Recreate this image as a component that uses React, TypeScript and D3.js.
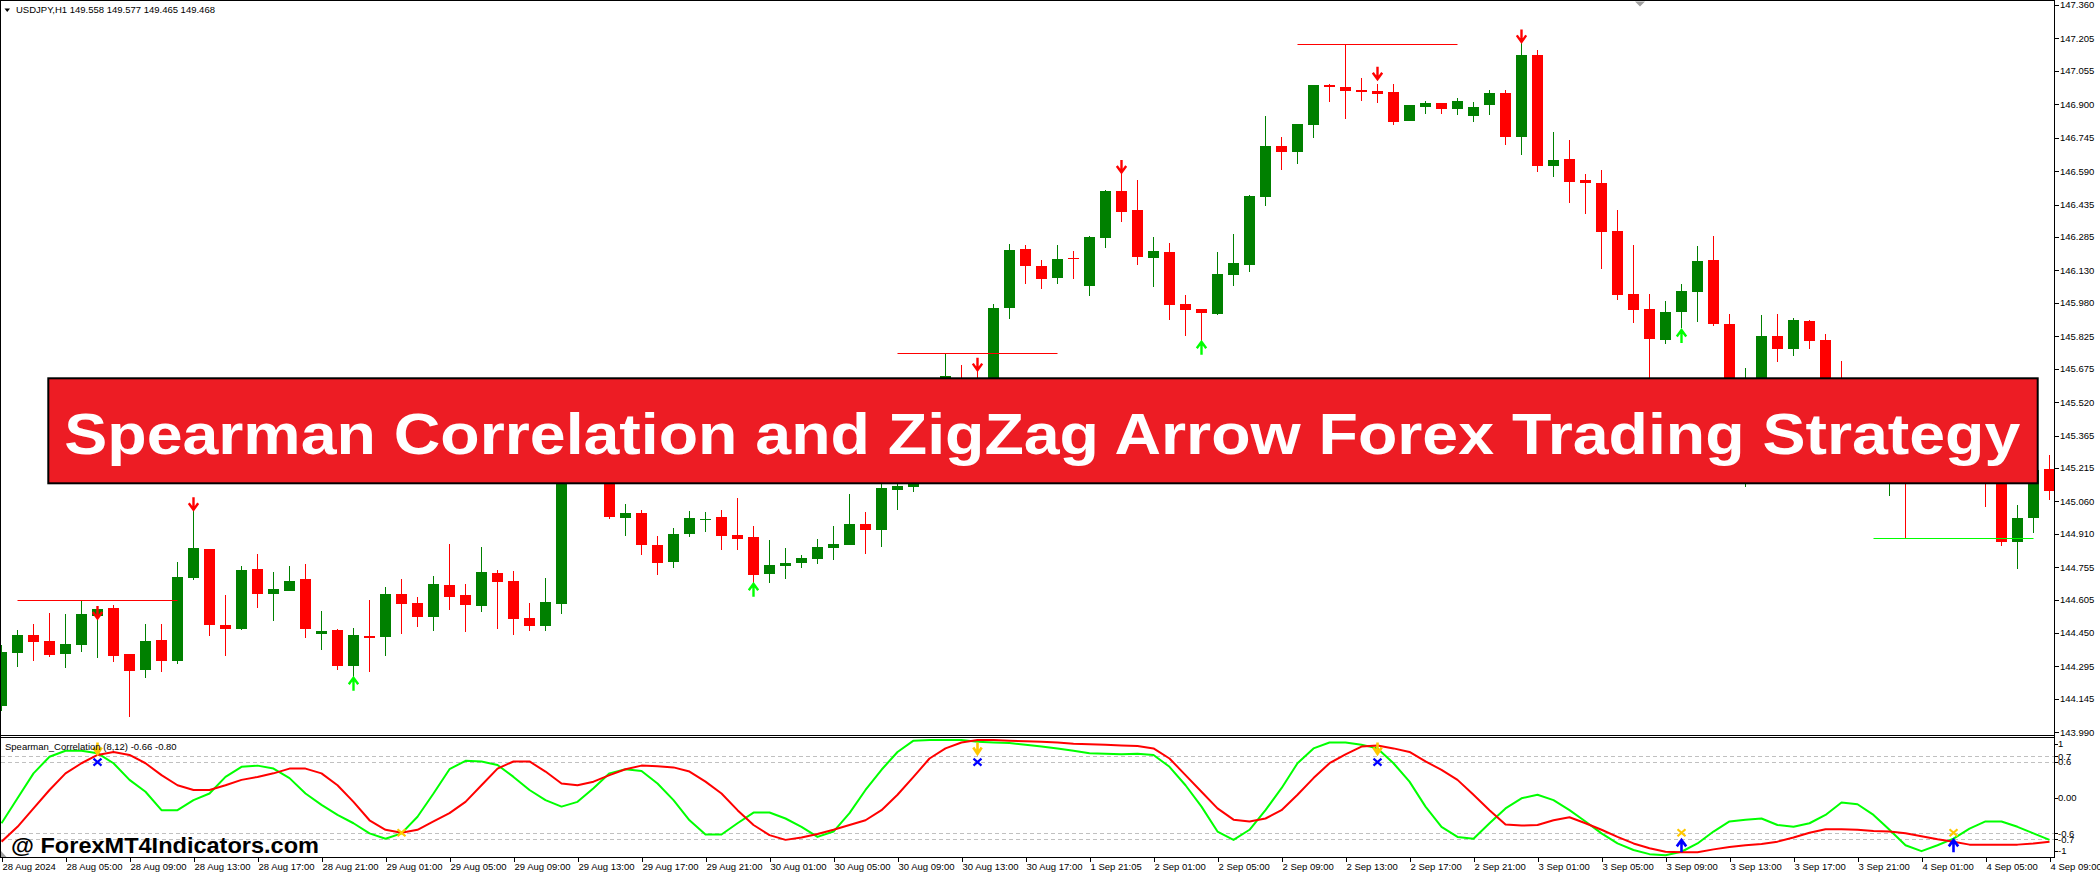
import React, { useEffect } from 'react';
import * as d3 from 'd3';

// ---------- DATA ----------
const OPEN = [
  144.113,144.359,144.440,144.413,144.354,144.394,144.530,144.566,144.352,144.280,
  144.417,144.321,144.706,144.839,144.488,144.470,144.746,144.632,144.646,144.700,
  144.447,144.464,144.298,144.437,144.433,144.630,144.589,144.525,144.672,144.626,
  144.576,144.728,144.691,144.519,144.484,144.586,145.350,145.250,145.300,144.984,
  145.006,144.858,144.780,144.910,144.975,144.987,144.904,144.895,144.725,144.762,
  144.776,144.794,144.845,144.859,144.955,144.929,145.113,145.128,145.160,145.420,
  145.620,145.500,145.440,145.956,146.229,146.151,146.095,146.188,146.058,146.282,
  146.498,146.410,146.189,146.215,145.974,145.951,145.929,146.110,146.157,146.472,
  146.707,146.680,146.804,146.989,146.980,146.966,146.962,146.957,146.823,146.887,
  146.906,146.878,146.846,146.897,146.952,146.748,147.128,146.614,146.645,146.549,
  146.535,146.313,146.021,145.951,145.808,145.937,146.030,146.178,145.882,145.400,
  145.620,145.826,145.766,145.896,145.808,145.600,145.450,145.300,145.150,145.350,
  145.180,145.300,145.420,145.350,145.400,145.200,144.873,144.983,145.210,
];
const HIGH = [
  144.394,144.464,144.491,144.542,144.538,144.603,144.575,144.579,144.352,144.491,
  144.491,144.779,145.020,144.839,144.626,144.760,144.816,144.732,144.760,144.769,
  144.552,144.468,144.473,144.603,144.663,144.700,144.617,144.714,144.862,144.677,
  144.848,144.742,144.737,144.589,144.705,145.400,145.450,145.380,145.330,145.048,
  145.020,144.900,144.936,145.015,145.011,145.020,145.075,144.946,144.881,144.844,
  144.811,144.885,144.946,145.094,145.011,145.160,145.170,145.200,145.450,145.746,
  145.692,145.669,145.974,146.253,146.248,146.178,146.248,146.220,146.290,146.504,
  146.580,146.549,146.285,146.257,146.016,145.951,146.215,146.299,146.480,146.846,
  146.748,146.809,146.989,146.994,147.179,147.022,146.994,146.994,146.897,146.915,
  146.906,146.929,146.910,146.966,146.966,147.190,147.151,146.772,146.734,146.577,
  146.595,146.410,146.248,146.021,145.988,146.067,146.243,146.290,145.928,145.678,
  145.923,145.928,145.910,145.900,145.835,145.710,145.500,145.350,145.350,145.380,
  145.350,145.460,145.480,145.400,145.450,145.300,145.041,145.230,145.275,
];
const LOW = [
  144.090,144.294,144.321,144.340,144.289,144.363,144.335,144.315,144.062,144.243,
  144.270,144.308,144.698,144.437,144.345,144.465,144.567,144.507,144.646,144.428,
  144.372,144.280,144.243,144.270,144.345,144.447,144.479,144.460,144.558,144.456,
  144.549,144.470,144.442,144.460,144.460,144.540,145.200,145.180,144.977,144.900,
  144.813,144.720,144.753,144.896,144.920,144.836,144.836,144.678,144.683,144.702,
  144.753,144.771,144.790,144.859,144.818,144.850,145.021,145.105,145.160,145.400,
  145.450,145.380,145.420,145.905,146.067,146.044,146.067,146.090,146.012,146.234,
  146.355,146.157,146.055,145.902,145.828,145.800,145.925,146.059,146.124,146.430,
  146.597,146.625,146.745,146.910,146.832,146.915,146.906,146.804,146.823,146.855,
  146.855,146.850,146.818,146.850,146.711,146.665,146.586,146.563,146.442,146.392,
  146.138,145.993,145.888,145.620,145.789,145.863,145.891,145.873,145.350,145.128,
  145.580,145.706,145.734,145.766,145.550,145.400,145.250,145.160,145.086,144.888,
  145.150,145.250,145.300,145.200,145.032,144.855,144.748,144.915,145.068,
];
const CLOSE = [
  144.362,144.440,144.410,144.348,144.399,144.538,144.561,144.345,144.275,144.413,
  144.321,144.709,144.844,144.488,144.470,144.742,144.632,144.654,144.691,144.470,
  144.459,144.298,144.440,144.428,144.630,144.586,144.525,144.677,144.618,144.581,
  144.732,144.688,144.516,144.484,144.593,145.350,145.250,145.300,144.989,145.006,
  144.859,144.776,144.909,144.983,144.978,144.901,144.887,144.720,144.765,144.774,
  144.797,144.848,144.862,144.955,144.929,145.122,145.131,145.160,145.420,145.640,
  145.500,145.440,145.956,146.225,146.152,146.090,146.183,146.183,146.285,146.500,
  146.401,146.194,146.220,145.971,145.948,145.934,146.113,146.164,146.475,146.707,
  146.680,146.809,146.989,146.980,146.963,146.958,146.949,146.818,146.897,146.906,
  146.878,146.915,146.887,146.952,146.748,147.128,146.616,146.642,146.541,146.537,
  146.310,146.016,145.947,145.812,145.937,146.035,146.174,145.882,145.400,145.620,
  145.826,145.766,145.900,145.803,145.600,145.450,145.300,145.200,145.300,145.160,
  145.300,145.420,145.350,145.280,145.200,144.873,144.983,145.207,145.109,
];

// Spearman correlation lines (green = fast, red = slow)
const FAST = [
  -0.43,-0.01,0.41,0.69,0.79,0.79,0.75,0.58,0.30,0.10,
  -0.21,-0.21,-0.04,0.07,0.35,0.52,0.54,0.49,0.33,0.07,
  -0.12,-0.29,-0.43,-0.60,-0.69,-0.60,-0.32,0.07,0.48,0.62,
  0.61,0.55,0.35,0.13,-0.04,-0.15,-0.07,0.16,0.41,0.48,
  0.45,0.24,-0.04,-0.38,
  -0.62,-0.62,-0.43,-0.25,-0.25,-0.35,-0.49,-0.66,-0.57,-0.26,
  0.13,0.47,0.77,0.96,0.97,0.97,0.97,0.94,0.93,0.92,
  0.89,0.86,0.83,0.79,0.75,0.74,0.73,0.74,0.72,0.52,
  0.21,-0.15,-0.57,-0.71,-0.54,-0.21,0.16,0.58,0.83,0.93,
  0.93,0.89,0.83,0.58,
  0.27,-0.15,-0.49,-0.66,-0.69,-0.43,-0.18,-0.01,0.05,-0.04,
  -0.21,-0.40,-0.60,-0.77,-0.88,-0.95,-0.97,-0.91,-0.77,-0.57,
  -0.40,-0.37,-0.35,-0.46,-0.49,-0.43,-0.29,-0.08,-0.11,-0.29,
  -0.54,-0.80,-0.90,-0.80,-0.69,-0.52,-0.40,-0.40,-0.49,-0.60,
  -0.71,
];
const SLOW = [
  -0.74,-0.49,-0.18,0.13,0.41,0.58,0.72,0.77,0.72,0.58,
  0.38,0.21,0.13,0.13,0.21,0.30,0.35,0.41,0.49,0.49,
  0.41,0.21,-0.07,-0.38,-0.54,-0.59,-0.54,-0.40,-0.26,-0.07,
  0.21,0.49,0.61,0.61,0.44,0.24,0.21,0.27,0.38,0.48,
  0.54,0.53,0.51,0.44,
  0.27,0.07,-0.21,-0.46,-0.63,-0.71,-0.67,-0.61,-0.54,-0.46,
  -0.38,-0.21,0.05,0.35,0.66,0.83,0.93,0.97,0.97,0.96,
  0.95,0.94,0.93,0.91,0.90,0.89,0.88,0.87,0.83,0.66,
  0.38,0.10,-0.18,-0.37,-0.40,-0.35,-0.21,0.05,0.33,0.58,
  0.73,0.86,0.88,0.83,
  0.77,0.61,0.47,0.30,0.05,-0.21,-0.45,-0.47,-0.46,-0.38,
  -0.33,-0.43,-0.54,-0.66,-0.77,-0.85,-0.91,-0.92,-0.92,-0.87,
  -0.83,-0.80,-0.78,-0.74,-0.67,-0.59,-0.53,-0.53,-0.54,-0.56,
  -0.57,-0.60,-0.65,-0.70,-0.74,-0.79,-0.79,-0.79,-0.79,-0.77,
  -0.74,
];

// ZigZag arrow signals on the price chart (bar index, price of arrow top)
const DOWN_ARROWS = [
  { bar: 6, price: 144.575 }, { bar: 12, price: 145.079 }, { bar: 61, price: 145.726 },
  { bar: 70, price: 146.642 }, { bar: 86, price: 147.074 }, { bar: 95, price: 147.247 },
];
const UP_ARROWS = [
  { bar: 22, price: 144.243 }, { bar: 47, price: 144.678 },
  { bar: 75, price: 145.800 }, { bar: 105, price: 145.854 },
];
// ZigZag level lines
const LEVELS = [
  { from: 1, to: 11, price: 144.603, kind: 'high' },
  { from: 56, to: 66, price: 145.746, kind: 'high' },
  { from: 81, to: 91, price: 147.179, kind: 'high' },
  { from: 117, to: 127, price: 144.889, kind: 'low' },
];
// Indicator signals
const IND_DOWN_BARS = [6, 61, 86];
const IND_UP_BARS = [105, 122];
const IND_CROSS_LOW_BARS = [25, 105, 122];

const PRICE_TICKS = [
  '147.360','147.205','147.055','146.900','146.745','146.590','146.435','146.285',
  '146.130','145.980','145.825','145.675','145.520','145.365','145.215','145.060',
  '144.910','144.755','144.605','144.450','144.295','144.145','143.990',
];
const IND_TICKS = [
  { v: 1, label: '1' }, { v: 0.7, label: '0.7' }, { v: 0.6, label: '0.6' },
  { v: 0, label: '0.00' }, { v: -0.6, label: '-0.6' }, { v: -0.7, label: '-0.7' },
  { v: -1, label: '-1' },
];
const IND_LEVELS = [0.7, 0.6, -0.6, -0.7];
const TIME_LABELS = [
  '28 Aug 2024','28 Aug 05:00','28 Aug 09:00','28 Aug 13:00','28 Aug 17:00','28 Aug 21:00',
  '29 Aug 01:00','29 Aug 05:00','29 Aug 09:00','29 Aug 13:00','29 Aug 17:00','29 Aug 21:00',
  '30 Aug 01:00','30 Aug 05:00','30 Aug 09:00','30 Aug 13:00','30 Aug 17:00','1 Sep 21:05',
  '2 Sep 01:00','2 Sep 05:00','2 Sep 09:00','2 Sep 13:00','2 Sep 17:00','2 Sep 21:00',
  '3 Sep 01:00','3 Sep 05:00','3 Sep 09:00','3 Sep 13:00','3 Sep 17:00','3 Sep 21:00',
  '4 Sep 01:00','4 Sep 05:00','4 Sep 09:00',
];
const TIME_LABEL_STEP = 4;

const TITLE = 'USDJPY,H1  149.558 149.577 149.465 149.468';
const IND_TITLE = 'Spearman_Correlation (8,12) -0.66 -0.80';
const BANNER = 'Spearman Correlation and ZigZag Arrow Forex Trading Strategy';
const WATERMARK = '@ ForexMT4Indicators.com';

// ---------- LAYOUT ----------
const W = 2100, H = 876;
const RIGHT = 2054.5;
const MAIN_BOT = 735.5;
const IND_TOP = 737.5;
const IND_BOT = 857.5;
const FONT = '"Liberation Sans", Arial, sans-serif';

const BULL = '#008000';
const BEAR = '#FF0000';
const LIME = '#00FF00';
const GOLD = '#FFC800';
const BLUE = '#0000FF';

function arrowDown(cx: number, top: number, w: number, h: number) {
  return `M${cx},${top} V${top + h - 1.5} M${cx - w / 2 + 0.8},${top + h - 6.5} L${cx},${top + h} L${cx + w / 2 - 0.8},${top + h - 6.5}`;
}
function arrowUp(cx: number, top: number, w: number, h: number) {
  return `M${cx},${top + h} V${top + 1.5} M${cx - w / 2 + 0.8},${top + 6.5} L${cx},${top} L${cx + w / 2 - 0.8},${top + 6.5}`;
}
function cross(cx: number, cy: number, w: number, h: number) {
  return `M${cx - w / 2},${cy - h / 2} L${cx + w / 2},${cy + h / 2} M${cx + w / 2},${cy - h / 2} L${cx - w / 2},${cy + h / 2}`;
}

export default function App() {
  useEffect(() => {
    document.body.style.margin = '0';
  }, []);

  const n = OPEN.length;
  const x = d3.scaleLinear().domain([0, n - 1]).range([1.5, 1.5 + 16 * (n - 1)]);
  const y = d3.scaleLinear().domain([143.99, 147.36]).range([732.3, 5]);
  const yi = d3.scaleLinear().domain([-1, 1]).range([857.1, 738.3]);

  const line = d3.line<number>().x((_, i) => x(i)).y((d) => yi(d));

  return (
    <svg
      width={W}
      height={H}
      viewBox={`0 0 ${W} ${H}`}
      style={{ display: 'block', position: 'absolute', left: 0, top: 0, background: '#fff' }}
      fontFamily={FONT}
    >
      <defs>
        <clipPath id="mainClip">
          <rect x={1} y={1} width={RIGHT - 1} height={MAIN_BOT - 1} />
        </clipPath>
        <clipPath id="indClip">
          <rect x={1} y={IND_TOP} width={RIGHT - 1} height={IND_BOT - IND_TOP} />
        </clipPath>
      </defs>
      <rect x={0} y={0} width={W} height={H} fill="#fff" />

      {/* ----- main price panel ----- */}
      <g clipPath="url(#mainClip)">
        <g shapeRendering="crispEdges">
          {OPEN.map((o, i) => {
            const c = CLOSE[i];
            const col = c >= o ? BULL : BEAR;
            const yTop = Math.min(y(o), y(c));
            const hb = Math.max(1, Math.abs(y(o) - y(c)));
            return (
              <g key={i}>
                <rect x={x(i) - 0.5} y={y(HIGH[i])} width={1} height={Math.max(1, y(LOW[i]) - y(HIGH[i]))} fill={col} />
                <rect x={x(i) - 5.5} y={yTop} width={11} height={hb} fill={col} />
              </g>
            );
          })}
        </g>
        {LEVELS.map((l, i) => (
          <line
            key={i}
            x1={x(l.from)}
            x2={x(l.to)}
            y1={Math.round(y(l.price)) + 0.5}
            y2={Math.round(y(l.price)) + 0.5}
            stroke={l.kind === 'high' ? BEAR : LIME}
            strokeWidth={1.2}
          />
        ))}
        {DOWN_ARROWS.map((a, i) => (
          <path key={i} d={arrowDown(x(a.bar), y(a.price), 11, 12.5)} fill="none" stroke={BEAR} strokeWidth={2.4} />
        ))}
        {UP_ARROWS.map((a, i) => (
          <path key={i} d={arrowUp(x(a.bar), y(a.price), 11, 13)} fill="none" stroke={LIME} strokeWidth={2.4} />
        ))}
      </g>

      {/* title */}
      <path d="M4.5,8.5 L10,8.5 L7.25,12 Z" fill="#000" />
      <text x={16} y={13.3} fontSize={9.5} fill="#000">{TITLE}</text>
      {/* shift marker */}
      <path d="M1635,1.5 L1645,1.5 L1640,6.5 Z" fill="#A0A0A0" />

      {/* ----- indicator panel ----- */}
      <g clipPath="url(#indClip)">
        {IND_LEVELS.map((v, i) => (
          <line key={i} x1={1} x2={RIGHT} y1={Math.round(yi(v)) + 0.5} y2={Math.round(yi(v)) + 0.5}
            stroke="#C0C0C0" strokeWidth={1} strokeDasharray="4,3" />
        ))}
        <path d={line(FAST) || ''} fill="none" stroke={LIME} strokeWidth={2} strokeLinejoin="round" />
        <path d={line(SLOW) || ''} fill="none" stroke={BEAR} strokeWidth={2} strokeLinejoin="round" />
        {IND_DOWN_BARS.map((b) => (
          <g key={'d' + b}>
            <path d={arrowDown(x(b), yi(0.93), 10, 11.5)} fill="none" stroke={GOLD} strokeWidth={2.6} />
            <path d={cross(x(b), yi(0.6), 8, 7)} fill="none" stroke={BLUE} strokeWidth={2.2} />
          </g>
        ))}
        {IND_CROSS_LOW_BARS.map((b) => (
          <path key={'x' + b} d={cross(x(b), yi(-0.59), 8, 7)} fill="none" stroke={GOLD} strokeWidth={2.2} />
        ))}
        {IND_UP_BARS.map((b) => (
          <path key={'u' + b} d={arrowUp(x(b), yi(-0.71), 11, 12.5)} fill="none" stroke={BLUE} strokeWidth={2.6} />
        ))}
      </g>
      <text x={5} y={750} fontSize={9.5} fill="#000">{IND_TITLE}</text>
      <path d="M1,851 L1,857 L6.5,857 Z" fill="#A0A0A0" />

      {/* ----- frame ----- */}
      <g stroke="#000" strokeWidth={1} shapeRendering="crispEdges" fill="none">
        <line x1={0.5} x2={0.5} y1={0.5} y2={IND_BOT} />
        <line x1={0} x2={RIGHT} y1={0.5} y2={0.5} />
        <line x1={RIGHT} x2={RIGHT} y1={0} y2={IND_BOT} />
        <line x1={0} x2={RIGHT} y1={MAIN_BOT} y2={MAIN_BOT} />
        <line x1={0} x2={RIGHT} y1={IND_TOP} y2={IND_TOP} />
        <line x1={0} x2={RIGHT} y1={IND_BOT} y2={IND_BOT} />
      </g>

      {/* price axis */}
      {PRICE_TICKS.map((t) => {
        const yy = y(parseFloat(t));
        return (
          <g key={t}>
            <line x1={RIGHT} x2={RIGHT + 4} y1={Math.round(yy) + 0.5} y2={Math.round(yy) + 0.5} stroke="#000" shapeRendering="crispEdges" />
            <text x={2060} y={yy + 3.4} fontSize={9.5} fill="#000">{t}</text>
          </g>
        );
      })}
      {/* indicator axis */}
      {IND_TICKS.map((t) => {
        const yy = Math.min(851, Math.max(744, yi(t.v)));
        return (
          <g key={t.label}>
            <line x1={RIGHT} x2={RIGHT + 3} y1={Math.round(yy) + 0.5} y2={Math.round(yy) + 0.5} stroke="#000" shapeRendering="crispEdges" />
            <text x={2058} y={yy + 3.4} fontSize={9.5} fill="#000">{t.label}</text>
          </g>
        );
      })}
      {/* time axis */}
      {TIME_LABELS.map((t, i) => {
        const xx = x(i * TIME_LABEL_STEP);
        return (
          <g key={t}>
            <line x1={Math.round(xx) + 0.5} x2={Math.round(xx) + 0.5} y1={IND_BOT} y2={IND_BOT + 4} stroke="#000" shapeRendering="crispEdges" />
            <text x={xx + 1} y={870} fontSize={9.5} fill="#000">{t}</text>
          </g>
        );
      })}

      {/* banner */}
      <rect x={48.3} y={378.3} width={1989.4} height={105} fill="#ED1C24" stroke="#000" strokeWidth={2} />
      <text x={64.3} y={454.3} fontSize={57} fontWeight="bold" fill="#fff" textLength={1956} lengthAdjust="spacingAndGlyphs">
        {BANNER}
      </text>

      {/* watermark */}
      <text x={11} y={853.3} fontSize={22} fontWeight="bold" fill="#000" textLength={308} lengthAdjust="spacingAndGlyphs">
        {WATERMARK}
      </text>
    </svg>
  );
}
